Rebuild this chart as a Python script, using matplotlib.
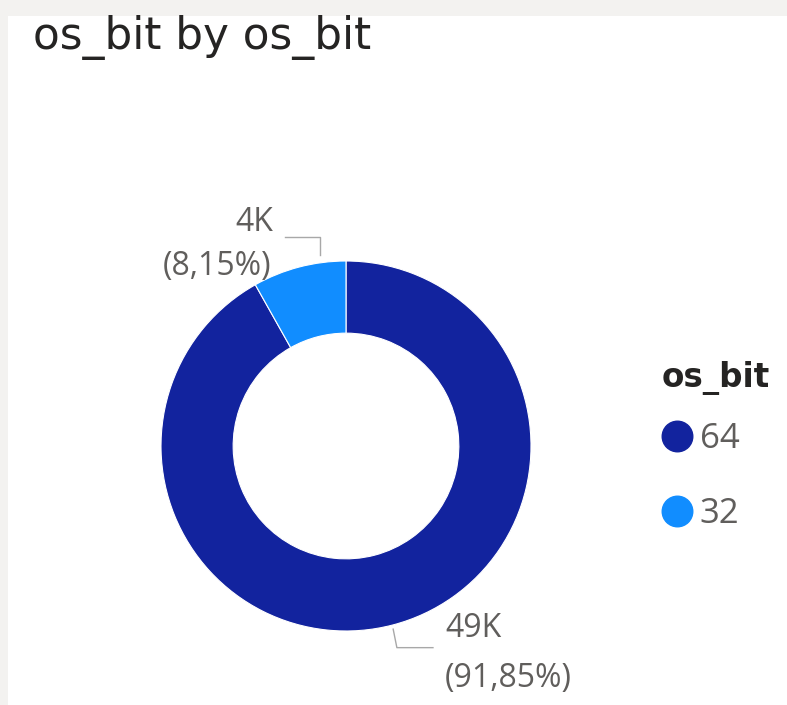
import matplotlib.pyplot as plt
from matplotlib.lines import Line2D
from matplotlib.patches import Rectangle

# os_bit counts
categories = ['64', '32']
counts = [48900, 4340]
colors = ['#12239E', '#118DFF']

LABEL_GREY = '#605E5C'
LEADER_GREY = '#A8A8A8'


def short_number(v):
    return '{:.0f}K'.format(v / 1000)


def pct_text(v, total):
    return '({:.2f}%)'.format(100 * v / total).replace('.', ',')


fig = plt.figure(figsize=(7.87, 7.05), dpi=100, facecolor='#F3F2F0')
fig.patches.append(Rectangle((8 / 787, 0), 1 - 8 / 787, 1 - 16 / 705,
                             transform=fig.transFigure, facecolor='white',
                             edgecolor='none', zorder=-10))

fig.text(33 / 787, 1 - 49 / 705, 'os_bit by os_bit', fontsize=31.5,
         family='DejaVu Sans', color='#252423', va='baseline')

ax = fig.add_axes([161 / 787, 74 / 705, 370 / 787, 370 / 705])
ax.set_zorder(1)
wedges, _ = ax.pie(counts, colors=colors, startangle=90, counterclock=False,
                   radius=1, wedgeprops=dict(width=0.39, edgecolor='white', linewidth=0.8))
ax.set_xlim(-1, 1)
ax.set_ylim(-1, 1)
ax.axis('off')

total = sum(counts)

# 64 slice label, bottom right
ax.plot([0.255, 0.275, 0.47], [-0.99, -1.09, -1.09], color=LEADER_GREY, lw=1, clip_on=False)
ax.text(0.535, -1.032, short_number(counts[0]), family='Open Sans', fontsize=23,
        color=LABEL_GREY, ha='left', va='baseline')
ax.text(0.535, -1.303, pct_text(counts[0], total), family='Open Sans', fontsize=23,
        color=LABEL_GREY, ha='left', va='baseline')

# 32 slice label, top left
ax.plot([-0.33, -0.14, -0.14], [1.13, 1.13, 1.03], color=LEADER_GREY, lw=1, clip_on=False)
ax.text(-0.395, 1.162, short_number(counts[1]), family='Open Sans', fontsize=23,
        color=LABEL_GREY, ha='right', va='baseline')
ax.text(-0.405, 0.924, pct_text(counts[1], total), family='Open Sans', fontsize=23,
        color=LABEL_GREY, ha='right', va='baseline')

handles = [Line2D([], [], marker='o', linestyle='none', markersize=22,
                  markerfacecolor=c, markeredgecolor=c) for c in colors]
leg = fig.legend(handles, categories, title='os_bit', loc='upper left',
                 bbox_to_anchor=(644 / 787, 1 - 344 / 705), frameon=False,
                 borderpad=0, handlelength=0.9, handletextpad=0.2,
                 labelspacing=1.2, alignment='left',
                 prop={'family': 'Open Sans', 'size': 25},
                 title_fontproperties={'family': 'DejaVu Sans', 'weight': 'bold', 'size': 23.5})
leg._legend_box.sep = 19
for t in leg.get_texts():
    t.set_color(LABEL_GREY)
leg.get_title().set_color('#252423')

fig.savefig('out.png', dpi=100, facecolor=fig.get_facecolor())
